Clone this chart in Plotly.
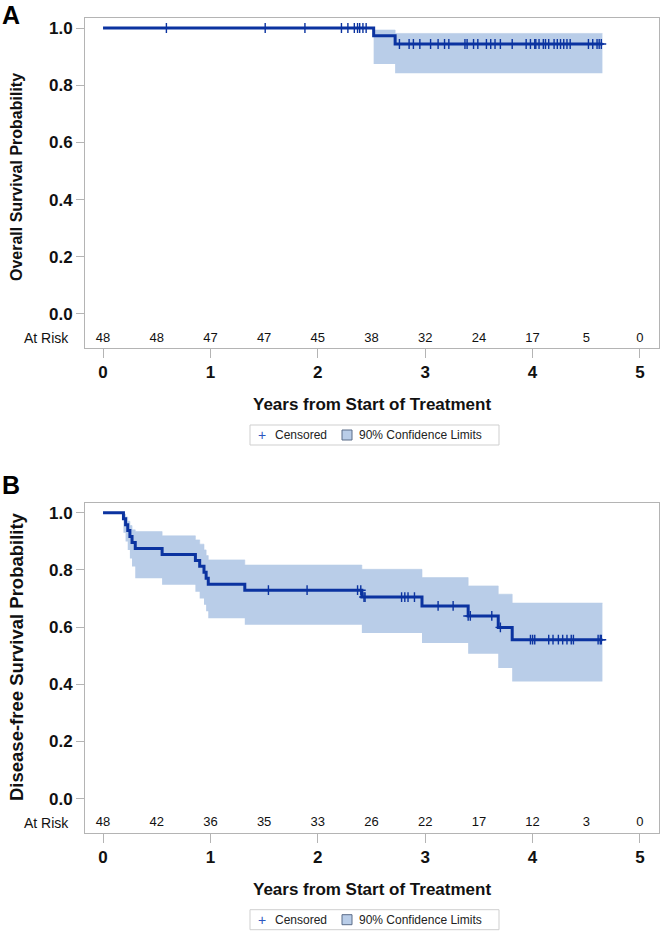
import plotly.graph_objects as go

# ---------------- Data ----------------
# Panel A: Overall survival (Kaplan-Meier step values)
os_times = [0.0, 2.52, 2.72]
os_surv = [1.0, 0.973, 0.944]
os_lower = [1.0, 0.874, 0.842]
os_upper = [1.0, 0.993, 0.981]
os_end = 4.65
os_censor = [0.59, 1.51, 1.88, 2.22, 2.28, 2.34, 2.37, 2.39, 2.42, 2.45,
             2.76, 2.85, 2.89, 2.95, 3.05, 3.12, 3.18, 3.22, 3.37, 3.39, 3.45,
             3.49, 3.57, 3.61, 3.65, 3.70, 3.81, 3.94, 3.98, 4.02, 4.03, 4.06,
             4.10, 4.12, 4.15, 4.20, 4.23, 4.26, 4.29, 4.32, 4.35, 4.52, 4.56,
             4.60, 4.62, 4.64]

# Panel B: Disease-free survival
dfs_times = [0.0, 0.19, 0.21, 0.23, 0.25, 0.27, 0.30, 0.55, 0.86, 0.90, 0.94,
             0.96, 0.98, 1.32, 2.41, 2.97, 3.40, 3.68, 3.81]
dfs_surv = [1.0, 0.979, 0.958, 0.938, 0.917, 0.896, 0.875, 0.854, 0.833, 0.813,
            0.792, 0.771, 0.750, 0.729, 0.705, 0.674, 0.639, 0.599, 0.556]
dfs_lower = [1.0, 0.93, 0.899, 0.87, 0.84, 0.812, 0.771, 0.748, 0.724, 0.70,
             0.678, 0.655, 0.631, 0.608, 0.579, 0.544, 0.507, 0.457, 0.41]
dfs_upper = [1.0, 0.995, 0.985, 0.97, 0.955, 0.94, 0.934, 0.919, 0.905, 0.89,
             0.870, 0.85, 0.835, 0.817, 0.802, 0.773, 0.744, 0.715, 0.684]
dfs_end = 4.65
dfs_censor = [1.54, 1.90, 2.37, 2.40, 2.43, 2.44, 2.78, 2.81, 2.84, 2.90, 3.12,
              3.26, 3.40, 3.42, 3.62, 3.70, 3.98, 4.00, 4.02, 4.15, 4.19, 4.24,
              4.28, 4.32, 4.36, 4.38, 4.61, 4.63, 4.64]

risk_times = [0, 0.5, 1, 1.5, 2, 2.5, 3, 3.5, 4, 4.5, 5]
os_at_risk = [48, 48, 47, 47, 45, 38, 32, 24, 17, 5, 0]
dfs_at_risk = [48, 42, 36, 35, 33, 26, 22, 17, 12, 3, 0]

x_ticks = [0, 1, 2, 3, 4, 5]
y_ticks = [0.0, 0.2, 0.4, 0.6, 0.8, 1.0]

# ---------------- Style ----------------
W, H = 661, 932
FONT = "Liberation Sans"
LINE = "#0b33a0"
BAND = "#b9cde8"
FRAME = "#b4b4b4"
RISK_Y = -0.085
X_RANGE = [-0.168, 5.177]
Y_RANGE = [-0.119, 1.035]
OFF = 484.7


def px_x(p):
    return p / W


def px_y(p):
    return 1 - p / H


def step_xy(times, vals, end):
    return list(times) + [end], list(vals) + [vals[-1]]


def surv_at(times, vals, t):
    v = vals[0]
    for tt, vv in zip(times, vals):
        if tt <= t:
            v = vv
    return v


fig = go.Figure()


def add_panel(times, surv, lower, upper, end, censor, at_risk, xa, ya):
    xs, lo = step_xy(times, lower, end)
    _, hi = step_xy(times, upper, end)
    _, sv = step_xy(times, surv, end)
    fig.add_trace(go.Scatter(x=xs, y=lo, mode="lines", line=dict(width=0, shape="hv", color=BAND),
                             xaxis=xa, yaxis=ya, hoverinfo="skip"))
    fig.add_trace(go.Scatter(x=xs, y=hi, mode="lines", fill="tonexty", fillcolor=BAND,
                             line=dict(width=0.6, shape="hv", color=BAND),
                             name="90% Confidence Limits", xaxis=xa, yaxis=ya, hoverinfo="skip"))
    fig.add_trace(go.Scatter(x=xs, y=sv, mode="lines", line=dict(width=3, shape="hv", color=LINE),
                             xaxis=xa, yaxis=ya))
    fig.add_trace(go.Scatter(x=censor, y=[surv_at(times, surv, t) for t in censor],
                             mode="markers", name="Censored",
                             marker=dict(symbol="cross-thin", size=7,
                                         line=dict(width=1.4, color=LINE), color=LINE),
                             xaxis=xa, yaxis=ya))
    fig.add_trace(go.Scatter(x=risk_times, y=[RISK_Y] * len(risk_times), mode="text",
                             text=[str(v) for v in at_risk],
                             textfont=dict(family=FONT, size=13, color="#111"),
                             xaxis=xa, yaxis=ya, hoverinfo="skip"))


add_panel(os_times, os_surv, os_lower, os_upper, os_end, os_censor, os_at_risk, "x", "y")
add_panel(dfs_times, dfs_surv, dfs_lower, dfs_upper, dfs_end, dfs_censor, dfs_at_risk, "x2", "y2")

xdom = [px_x(85), px_x(659)]
top_dom = [px_y(348), px_y(18)]
bot_dom = [px_y(348 + OFF), px_y(18 + OFF)]

axis_common = dict(showgrid=False, zeroline=False, showline=True, mirror=True,
                   linecolor=FRAME, linewidth=1, ticks="outside", tickcolor=FRAME,
                   tickfont=dict(family=FONT, size=17, color="#111", weight="bold"))

xcfg = dict(axis_common, range=X_RANGE, tickvals=x_ticks, ticklen=9, domain=xdom)
ycfg = dict(axis_common, range=Y_RANGE, tickvals=y_ticks, tickformat=".1f", ticklen=8)

fig.update_layout(
    width=W, height=H,
    margin=dict(l=0, r=0, t=0, b=0),
    paper_bgcolor="white", plot_bgcolor="white",
    font=dict(family=FONT, color="#111"),
    showlegend=False,
    xaxis=dict(xcfg, anchor="y"),
    yaxis=dict(ycfg, anchor="x", domain=top_dom),
    xaxis2=dict(xcfg, anchor="y2"),
    yaxis2=dict(ycfg, anchor="x2", domain=bot_dom),
)

ann = []
shapes = []
for label, yc in [("A", 15), ("B", 485)]:
    ann.append(dict(text="<b>%s</b>" % label, x=px_x(0), y=px_y(yc), xref="paper", yref="paper",
                    xanchor="left", yanchor="middle", showarrow=False,
                    font=dict(family=FONT, size=25, color="#000")))
for title, yc, fs in [("Overall Survival Probability", 177, 16),
                      ("Disease-free Survival Probability", 657, 18.5)]:
    ann.append(dict(text="<b>%s</b>" % title, x=px_x(16), y=px_y(yc), xref="paper", yref="paper",
                    xanchor="center", yanchor="middle", textangle=-90, showarrow=False,
                    font=dict(family=FONT, size=fs, color="#111")))
for dy in [0, OFF]:
    ann.append(dict(text="<b>Years from Start of Treatment</b>", x=px_x(372), y=px_y(404.5 + dy),
                    xref="paper", yref="paper", xanchor="center", yanchor="middle",
                    showarrow=False, font=dict(family=FONT, size=17, color="#111")))
    ann.append(dict(text="At Risk", x=px_x(71), y=px_y(338 + dy), xref="paper", yref="paper",
                    xanchor="right", yanchor="middle", showarrow=False,
                    font=dict(family=FONT, size=14, color="#111")))
    # legend box (drawn manually)
    ly = 435 + dy
    shapes.append(dict(type="rect", xref="paper", yref="paper",
                       x0=px_x(250), x1=px_x(499), y0=px_y(ly - 10), y1=px_y(ly + 10),
                       line=dict(color="#cfcfcf", width=1), fillcolor="white"))
    ann.append(dict(text="+", x=px_x(262), y=px_y(ly), xref="paper", yref="paper",
                    xanchor="center", yanchor="middle", showarrow=False,
                    font=dict(family=FONT, size=14, color="#2d55c0")))
    ann.append(dict(text="Censored", x=px_x(273), y=px_y(ly), xref="paper", yref="paper",
                    xanchor="left", yanchor="middle", showarrow=False,
                    font=dict(family=FONT, size=12, color="#222")))
    shapes.append(dict(type="rect", xref="paper", yref="paper",
                       x0=px_x(342), x1=px_x(352), y0=px_y(ly - 5), y1=px_y(ly + 5),
                       line=dict(color="#5a6c88", width=1), fillcolor=BAND))
    ann.append(dict(text="90% Confidence Limits", x=px_x(357), y=px_y(ly), xref="paper",
                    yref="paper", xanchor="left", yanchor="middle", showarrow=False,
                    font=dict(family=FONT, size=12, color="#222")))
fig.update_layout(annotations=ann, shapes=shapes)

fig.write_html("out.html", config={"responsive": False, "displayModeBar": False},
               post_script="document.body.style.margin='0';document.body.style.overflow='hidden';")
